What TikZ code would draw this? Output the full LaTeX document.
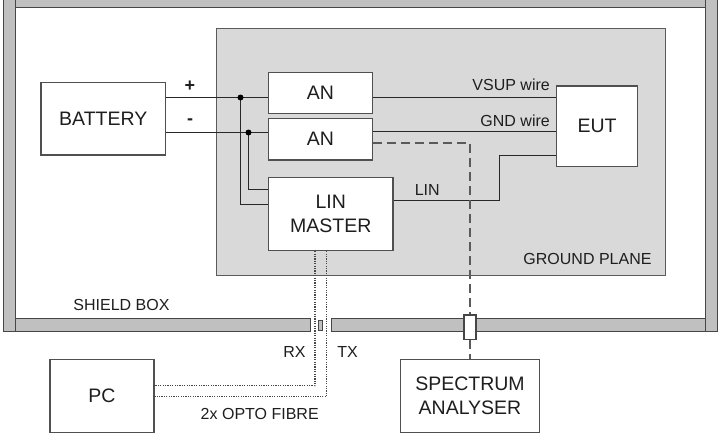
\documentclass[tikz,border=0pt]{standalone}
\usepackage{fontspec}
\setmainfont{Liberation Sans}
\newcommand\mybigfont{\fontsize{19.5}{24}\selectfont}
\newcommand\mysmallfont{\fontsize{16}{19}\selectfont}
\definecolor{wallc}{RGB}{192,192,192}
\definecolor{wallline}{RGB}{70,70,70}
\definecolor{gpfill}{RGB}{217,217,217}
\definecolor{gpline}{RGB}{90,90,90}
\definecolor{boxline}{RGB}{80,80,80}
\definecolor{wirec}{RGB}{40,40,40}
\definecolor{textc}{RGB}{30,30,30}
\begin{document}
\begin{tikzpicture}[x=1pt,y=-1pt,
  box/.style={draw=boxline, line width=1.5pt, fill=white, inner sep=0pt, align=center, font=\mybigfont, text=textc},
  wall/.style={fill=wallc, draw=wallline, line width=1pt},
  wire/.style={draw=wirec, line width=1.2pt},
  dashline/.style={draw=gpline, line width=1.8pt, dash pattern=on 9pt off 5pt},
  fibre/.style={draw=wallline, line width=1.2pt, dash pattern=on 1.2pt off 1.2pt},
  lbl/.style={inner sep=0pt, font=\mysmallfont, text=textc},
  junction/.style={fill=black}
]
\useasboundingbox (0,0) rectangle (722,445);
\fill[white] (0,0) rectangle (722,445);
% shield box walls
\draw[wall] (15,-3) rectangle (705,7.5);
\draw[wall] (3.5,-3) rectangle (15,331.5);
\draw[wall] (705,-3) rectangle (717,331.5);
\draw[wall] (15,318) rectangle (310.7,331.5);
\draw[wall] (318,320) rectangle (322.5,330);
\draw[wall] (331,318) rectangle (705,331.5);
% ground plane
\node[draw=gpline, fill=gpfill, line width=1.5pt, minimum width=449pt, minimum height=247.2pt, inner sep=0pt] (gp) at (441,151.9) {};
% blocks
\node[box, minimum width=124.7pt, minimum height=72.3pt] (bat) at (103.3,118.8) {BATTERY};
\node[box, minimum width=103.6pt, minimum height=41pt] (an1) at (320.5,92.8) {AN};
\node[box, minimum width=103.6pt, minimum height=41.7pt] (an2) at (320.5,139.2) {AN};
\node[box, minimum width=124.5pt, minimum height=73.2pt] (lm) at (330.8,213.9) {LIN\\MASTER};
\node[box, minimum width=80.6pt, minimum height=80.7pt] (eut) at (597,126.3) {EUT};
\node[box, minimum width=104pt, minimum height=73.4pt] (pc) at (102,396) {PC};
\node[box, minimum width=138.6pt, minimum height=73pt] (sa) at (470,395.8) {SPECTRUM\\ANALYSER};
\node[draw=wallline, fill=white, line width=1.3pt, minimum width=12pt, minimum height=24.3pt, inner sep=0pt] (ft) at (470,327.2) {};
% wire levels
\coordinate (yP) at (0,97.5);
\coordinate (yM) at (0,132.5);
\coordinate (yG) at (0,131.5);
\coordinate (yL1) at (0,204.5);
\coordinate (yL2) at (0,189.5);
\coordinate (yLIN) at (0,200.5);
\coordinate (yLE) at (0,155.5);
\coordinate (yD) at (0,143.3);
\coordinate (d1) at (240.5,97.5);
\coordinate (d2) at (248.5,132.5);
\coordinate (lk) at (499.5,200.5);
\coordinate (fx1) at (315,0);
\coordinate (fx2) at (326.7,0);
\coordinate (fy1) at (0,385.7);
\coordinate (fy2) at (0,396.7);
% wires
\draw[wire] (bat.east |- yP) -- (an1.west |- yP);
\draw[wire] (an1.east |- yP) -- (eut.west |- yP);
\draw[wire] (bat.east |- yM) -- (an2.west |- yM);
\draw[wire] (an2.east |- yG) -- (eut.west |- yG);
\draw[wire] (d1) |- (lm.west |- yL1);
\draw[wire] (d2) |- (lm.west |- yL2);
\draw[wire] (lm.east |- yLIN) -- (lk) |- (eut.west |- yLE);
\fill[junction] (d1) circle (3pt);
\fill[junction] (d2) circle (3pt);
% dashed measurement line
\draw[dashline] (an2.east |- yD) -| (ft.north);
\draw[dashline] (ft.south) -- (sa.north);
% fibres
\draw[fibre] (lm.south -| fx1) |- (pc.east |- fy1);
\draw[fibre] (lm.south -| fx2) |- (pc.east |- fy2);
% labels
\node[lbl, font=\bfseries\fontsize{18}{20}\selectfont] (plus) at (190,86) {+};
\node[lbl, font=\bfseries\fontsize{18}{20}\selectfont] (minus) at (190,122) {-};
\node[lbl, anchor=east] (vsup) at (550,85) {VSUP wire};
\node[lbl, anchor=east] (gnd) at (550,120.7) {GND wire};
\node[lbl] (linl) at (427.2,190) {LIN};
\node[lbl] (gpl) at (587.5,258.7) {GROUND PLANE};
\node[lbl] (sbl) at (121.5,305) {SHIELD BOX};
\node[lbl] (rx) at (294.5,351.7) {RX};
\node[lbl] (tx) at (347.5,351.7) {TX};
\node[lbl] (opto) at (259.7,414.3) {2x OPTO FIBRE};
\end{tikzpicture}
\end{document}
